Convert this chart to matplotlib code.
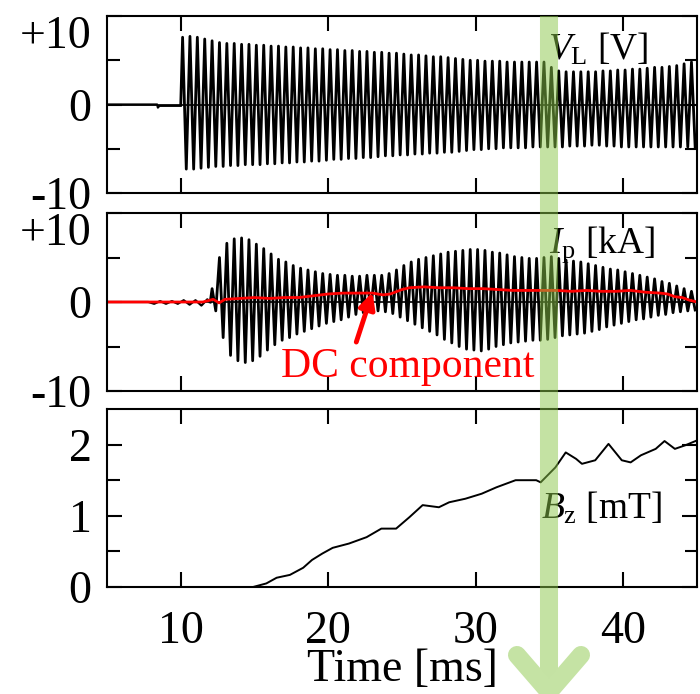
import numpy as np
import matplotlib
matplotlib.use('Agg')
import matplotlib.pyplot as plt
from matplotlib.lines import Line2D

plt.rcParams['font.family'] = ['Liberation Serif', 'DejaVu Serif']
plt.rcParams['mathtext.fontset'] = 'custom'
plt.rcParams['mathtext.rm'] = 'Liberation Serif'
plt.rcParams['mathtext.it'] = 'Liberation Serif:italic'

# ---- data ----
# loop voltage V_L: one upper / lower peak per cycle, 0.5 ms cycles from 10 ms
vl_start = 10.0
vl_period = 0.5
vl_upper = [7.6, 7.7, 7.6, 7.4, 7.2, 7.0, 6.9, 6.9, 6.8, 6.8,
            6.7, 6.7, 6.6, 6.6, 6.5, 6.5, 6.4, 6.4, 6.3, 6.3,
            6.2, 6.2, 6.1, 6.1, 6.0, 6.0, 5.9, 5.9, 5.8, 5.8,
            5.7, 5.6, 5.6, 5.5, 5.4, 5.4, 5.3, 5.2, 5.1, 5.0,
            5.0, 4.9, 4.9, 4.9, 4.8, 4.8, 4.8, 4.8, 4.8, 4.8,
            4.2, 3.8, 3.7, 3.7, 3.7, 3.7, 3.7, 3.8, 3.8, 3.9,
            3.9, 4.0, 4.0, 4.1, 4.2, 4.2, 4.3, 4.4, 4.6, 4.8]
vl_lower = [-7.3, -7.3, -7.2, -7.1, -7.0, -7.0, -6.9, -6.9, -6.8, -6.8,
            -6.8, -6.7, -6.7, -6.6, -6.6, -6.5, -6.5, -6.4, -6.4, -6.3,
            -6.2, -6.2, -6.1, -6.1, -6.0, -6.0, -5.9, -5.8, -5.8, -5.7,
            -5.7, -5.6, -5.6, -5.5, -5.5, -5.4, -5.4, -5.3, -5.2, -5.1,
            -5.1, -5.0, -5.0, -4.9, -4.9, -4.9, -4.9, -4.8, -4.8, -4.8,
            -4.8, -4.8, -4.7, -4.7, -4.7, -4.6, -4.6, -4.7, -4.7, -4.8,
            -4.8, -4.8, -4.8, -4.8, -4.8, -4.8, -4.8, -4.8, -4.8, -4.8]
vl_pre_t = [5.0, 8.4, 8.45, 8.55, 10.0]
vl_pre_v = [0.0, 0.0, -0.35, -0.15, -0.15]

# plasma current I_p: 0.5 ms cycles from 12 ms
ip_start = 12.0
ip_period = 0.5
ip_upper = [1.5, 5.0, 6.6, 7.1, 7.2, 7.0, 6.5, 6.0, 5.4, 4.8,
            4.5, 4.1, 3.8, 3.6, 3.4, 3.2, 3.1, 3.0, 3.0, 2.9,
            2.9, 3.0, 3.0, 3.0, 3.2, 3.6, 4.1, 4.5, 4.8, 5.0,
            5.2, 5.4, 5.6, 5.7, 5.8, 5.9, 5.9, 5.8, 5.6, 5.5,
            5.3, 5.1, 5.0, 4.9, 4.9, 5.0, 5.1, 4.9, 4.7, 4.6,
            4.5, 4.3, 4.1, 3.9, 3.7, 3.6, 3.4, 3.2, 3.0, 2.8,
            2.6, 2.3, 2.1, 1.8, 1.5, 1.2]
ip_lower = [-1.0, -4.0, -6.0, -6.6, -6.8, -6.6, -6.1, -5.4, -4.8, -4.3,
            -4.0, -3.6, -3.3, -3.0, -2.7, -2.4, -2.2, -2.0, -1.7, -1.4,
            -1.2, -1.0, -1.0, -1.1, -1.3, -1.7, -2.1, -2.5, -2.9, -3.3,
            -3.7, -4.2, -4.6, -5.0, -5.3, -5.4, -5.5, -5.3, -5.0, -4.8,
            -4.6, -4.5, -4.4, -4.3, -4.3, -4.2, -4.0, -3.8, -3.7, -3.6,
            -3.5, -3.3, -3.1, -2.8, -2.6, -2.4, -2.2, -2.0, -1.9, -1.7,
            -1.5, -1.4, -1.2, -1.1, -1.0, -0.9]
ip_pre_t = [5.0, 7.8, 8.2, 8.6, 9.0, 9.4, 9.8, 10.2, 10.6, 11.0, 11.4, 11.8, 12.0]
ip_pre_v = [0.0, 0.0, -0.2, 0.1, -0.2, 0.1, -0.2, 0.2, -0.3, 0.2, -0.4, 0.3, 0.0]

# DC component of I_p
dc_t = [5.0, 11.5, 12.2, 12.6, 13.0, 14.0, 15.0, 16.0, 17.0, 18.0, 19.0, 20.0,
        21.0, 22.0, 23.0, 23.7, 24.2, 25.0, 25.5, 26.5, 27.5, 28.5, 29.5, 30.5,
        31.5, 32.5, 33.5, 34.5, 35.5, 36.5, 37.5, 38.5, 39.5, 40.5, 41.5, 42.5,
        43.0, 43.5, 44.0, 44.5, 45.0]
dc_v = [0.0, 0.0, 0.3, -0.1, 0.3, 0.4, 0.5, 0.4, 0.5, 0.5, 0.7, 0.9,
        1.0, 1.0, 1.0, 0.8, 0.9, 1.4, 1.6, 1.7, 1.6, 1.6, 1.5, 1.5,
        1.4, 1.3, 1.3, 1.3, 1.3, 1.2, 1.3, 1.2, 1.2, 1.3, 1.1, 1.0,
        0.9, 0.6, 0.5, 0.2, 0.0]

# B_z
bz_t = [14.9, 15.8, 16.5, 17.4, 18.3, 18.9, 19.6, 20.3, 21.4, 22.6, 23.6, 24.6,
        25.5, 26.4, 27.5, 28.2, 29.3, 30.4, 31.4, 32.7, 34.1, 34.4, 35.4, 36.1,
        36.8, 37.2, 38.1, 39.0, 39.9, 40.5, 41.2, 42.2, 42.8, 43.5, 44.2, 44.9]
bz_v = [0.0, 0.05, 0.13, 0.17, 0.27, 0.38, 0.47, 0.55, 0.61, 0.70, 0.82, 0.82,
        0.98, 1.15, 1.12, 1.19, 1.24, 1.31, 1.40, 1.50, 1.50, 1.47, 1.68, 1.89,
        1.80, 1.73, 1.78, 2.01, 1.78, 1.75, 1.85, 1.94, 2.05, 1.94, 1.99, 2.05]


def zigzag(t0, period, upper, lower):
    t = [t0]
    y = [0.0]
    for k, (u, l) in enumerate(zip(upper, lower)):
        t += [t0 + period * (k + 0.25), t0 + period * (k + 0.75)]
        y += [u, l]
    return t, y


def style(ax):
    ax.set_xlim(5, 45)
    ax.set_xticks([10, 20, 30, 40])
    ax.tick_params(which='both', direction='in', top=True, right=True,
                   width=1.5, labelsize=33)
    ax.tick_params(which='major', length=11)
    ax.tick_params(which='minor', length=9)
    ax.tick_params(axis='y', pad=11)
    ax.tick_params(axis='x', pad=17)
    for s in ax.spines.values():
        s.set_linewidth(1.5)


fig = plt.figure(figsize=(7, 6.94), dpi=100)
W, H = 700.0, 694.0
left, right = 107 / W, 697 / W
ax1 = fig.add_axes([left, 1 - 193 / H, right - left, 177 / H])
ax2 = fig.add_axes([left, 1 - 391 / H, right - left, 178 / H])
ax3 = fig.add_axes([left, 1 - 587 / H, right - left, 178 / H])

# top: V_L
t, y = zigzag(vl_start, vl_period, vl_upper, vl_lower)
ax1.axhline(0, color='black', lw=1.2)
ax1.plot(vl_pre_t, vl_pre_v, color='black', lw=1.6)
ax1.plot(t, y, color='black', lw=2.0)
ax1.set_ylim(-10, 10)
ax1.set_yticks([-10, 0, 10])
ax1.set_yticks([-5, 5], minor=True)
ax1.set_yticklabels(['-10', '0', '+10'])
ax1.text(0.917, 0.81, r'$V_{\mathrm{L}}$ [V]', transform=ax1.transAxes,
         ha='right', va='center', fontsize=27)

# middle: I_p
t, y = zigzag(ip_start, ip_period, ip_upper, ip_lower)
ax2.axhline(0, color='black', lw=1.2)
ax2.plot(ip_pre_t, ip_pre_v, color='black', lw=1.6)
ax2.plot(t, y, color='black', lw=2.0)
ax2.plot(dc_t, dc_v, color='red', lw=2)
ax2.set_ylim(-10, 10)
ax2.set_yticks([-10, 0, 10])
ax2.set_yticks([-5, 5], minor=True)
ax2.set_yticklabels(['-10', '0', '+10'])
ax2.text(0.929, 0.82, r'$I_{\mathrm{p}}$ [kA]', transform=ax2.transAxes,
         ha='right', va='center', fontsize=27)
ax2.annotate('', xy=(23.0, 1.1), xytext=(21.9, -4.5),
             arrowprops=dict(arrowstyle='-|>', color='red', lw=3.5,
                             mutation_scale=24, shrinkA=0, shrinkB=0))
ax2.text(25.4, -7.3, 'DC component', color='red', fontsize=30,
         ha='center', va='center')

# bottom: B_z
ax3.plot(bz_t, bz_v, color='black', lw=1.4)
ax3.set_ylim(0, 2.5)
ax3.set_yticks([0, 1, 2])
ax3.set_yticks([0.5, 1.5], minor=True)
ax3.text(0.94, 0.44, r'$B_{\mathrm{z}}$ [mT]', transform=ax3.transAxes,
         ha='right', va='center', fontsize=27)
ax3.set_xlabel('Time [ms]', fontsize=33, labelpad=-3)

for ax in (ax1, ax2, ax3):
    style(ax)
ax1.tick_params(labelbottom=False)
ax2.tick_params(labelbottom=False)
for ax in (ax1, ax2):
    ax.get_yticklabels()[2].set_verticalalignment('top')

# green arrow over the three panels
xc = 549 / W
shaft = Line2D([xc, xc], [1 - 16 / H, 1 - 690 / H], transform=fig.transFigure,
               color='#8bc749', alpha=0.5, lw=13, solid_capstyle='butt', zorder=10)
head = Line2D([517 / W, xc, 581 / W], [1 - 655 / H, 1 - 692 / H, 1 - 655 / H],
              transform=fig.transFigure, color='#c5e3a4', lw=13,
              solid_capstyle='round', solid_joinstyle='miter', zorder=11)
fig.add_artist(shaft)
fig.add_artist(head)

fig.savefig('out.png', dpi=100)
